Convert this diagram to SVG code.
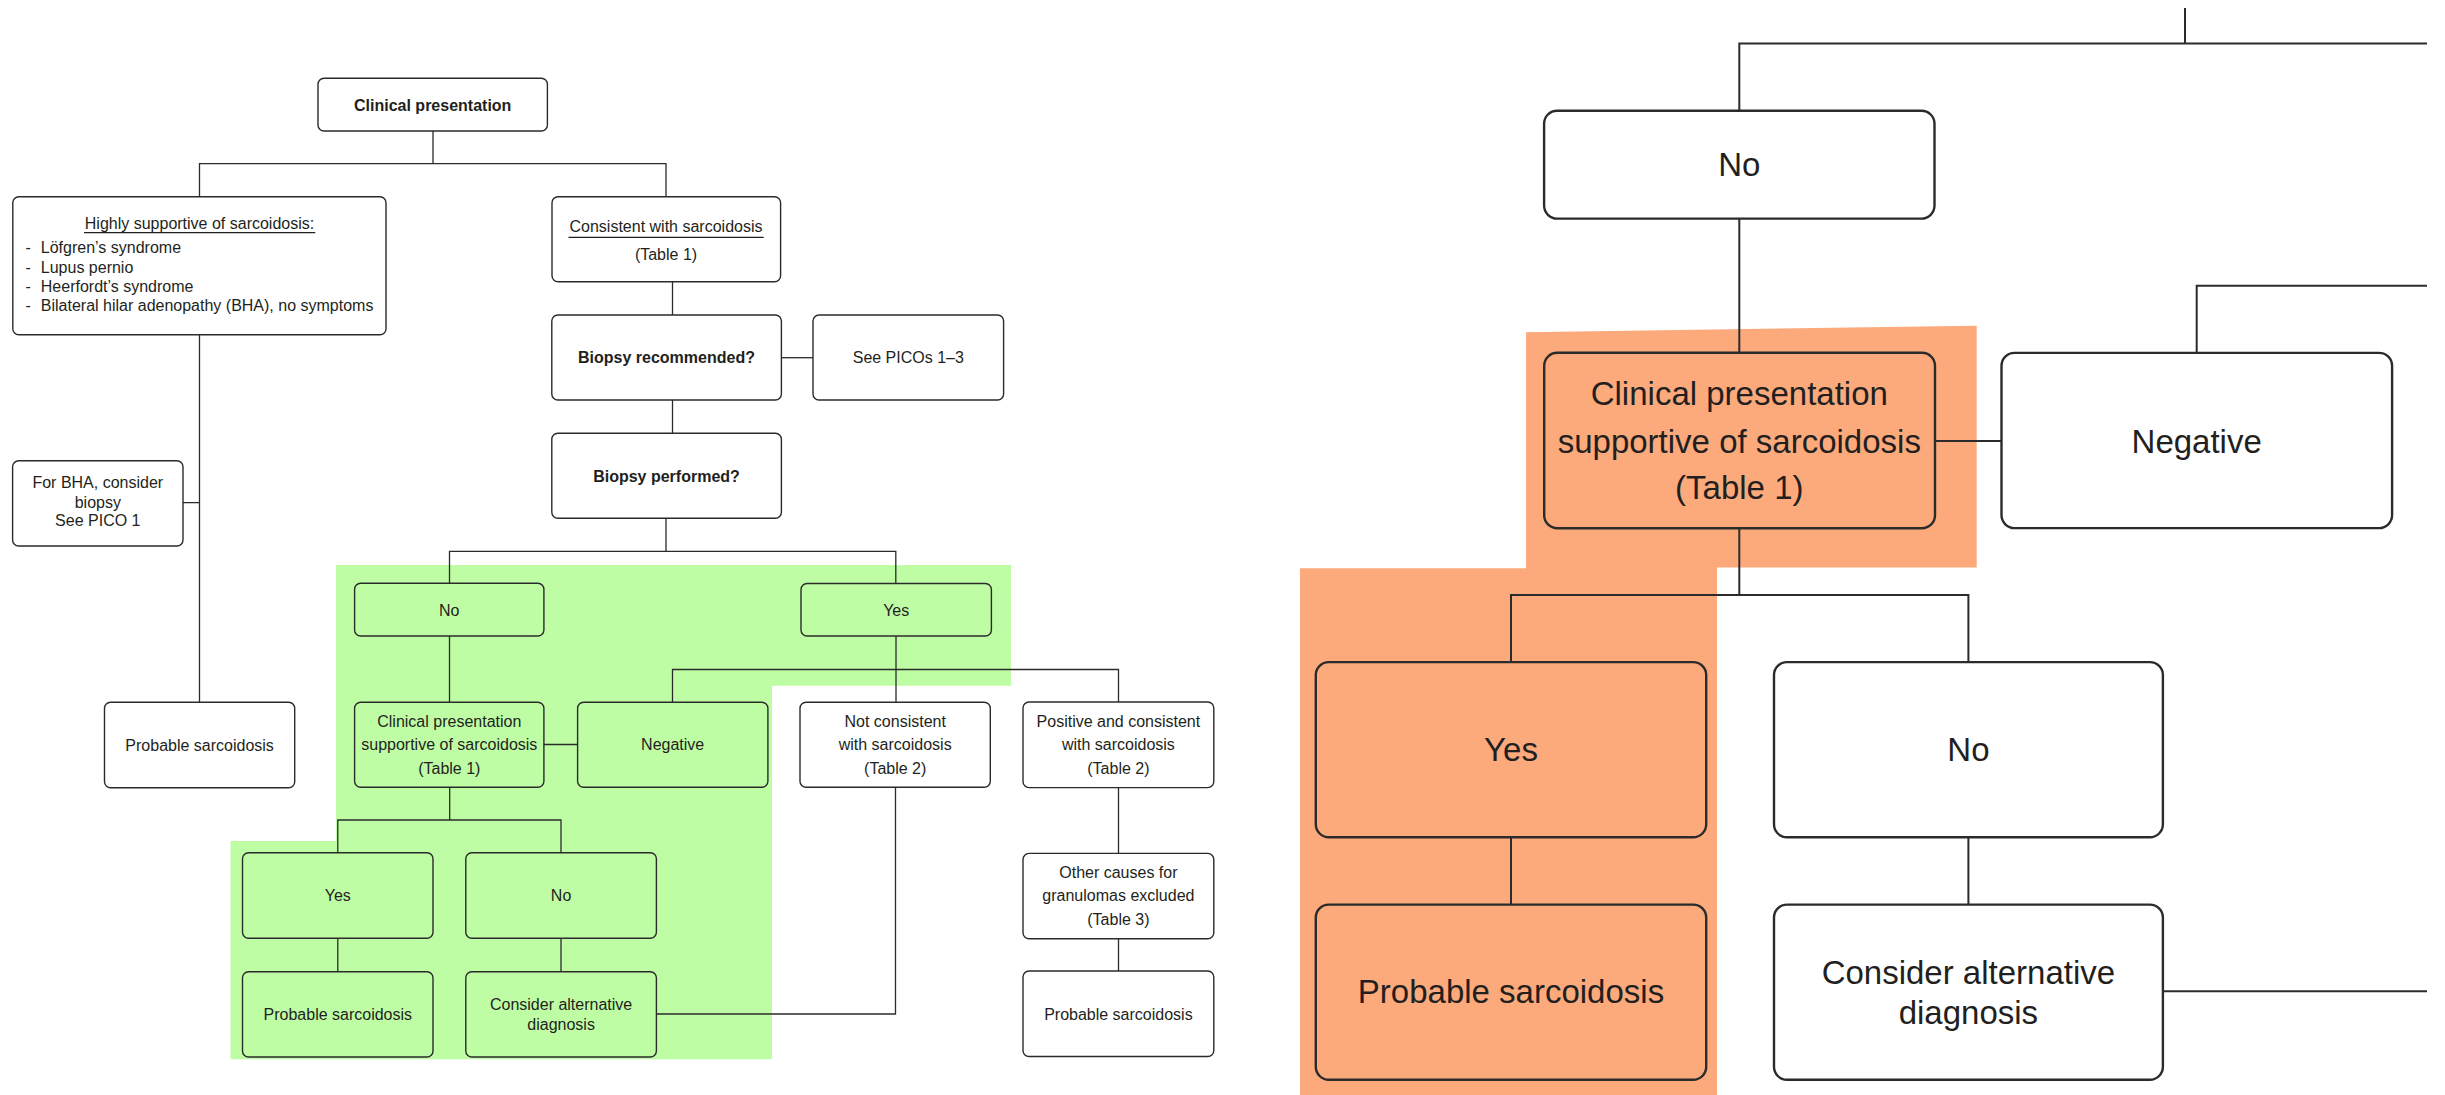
<svg xmlns="http://www.w3.org/2000/svg" width="2445" height="1095" viewBox="0 0 2445 1095">
  <style>
    .bg { fill: #ffffff; }
    .hl-green { fill: #bffda5; }
    .hl-orange { fill: #fcaa7b; }
    .box { fill: #ffffff; stroke: #2b2b2b; stroke-width: 1.4; }
    .box.g { fill: #bffda5; }
    .wire { fill: none; stroke: #2b2b2b; stroke-width: 1.3; }
    .big .box { stroke-width: 2.4; }
    .big .box.o { fill: #fcaa7b; }
    .big-wire { fill: none; stroke: #2b2b2b; stroke-width: 2; }
    text { font-family: "Liberation Sans", Arial, Helvetica, sans-serif; fill: #231f20; }
    .t { font-size: 16px; text-anchor: middle; }
    .tb { font-size: 16px; font-weight: bold; text-anchor: middle; }
    .tl { font-size: 16px; text-anchor: start; }
    .T { font-size: 33px; text-anchor: middle; }
    .ul { stroke: #231f20; stroke-width: 1.2; }
  </style>

  <rect class="bg" x="0" y="0" width="2445" height="1095"/>

  <!-- highlighted regions -->
  <g id="highlights">
    <polygon class="hl-green" points="336,565 1011,565 1011,685.7 772,685.7 772,1059.3 230.5,1059.3 230.5,841 336,841"/>
    <polygon class="hl-orange" points="1526,332.3 1976.7,325.7 1976.7,567.5 1717,567.5 1717,1095 1300,1095 1300,568.3 1526,568.3"/>
  </g>

  <!-- connectors -->
  <g id="connectors">
    <path class="wire" d="M199.5,197 V163.7 H666 V197 M433,131 V163.7"/>
    <path class="wire" d="M672.5,281.7 V315"/>
    <path class="wire" d="M781.5,357.7 H813"/>
    <path class="wire" d="M672.5,400 V433.3"/>
    <path class="wire" d="M666,518.3 V551.3 M449.5,583.3 V551.3 H895.8 V583.5"/>
    <path class="wire" d="M199.5,334.7 V702.3 M183,502.7 H199.5"/>
    <path class="wire" d="M449.5,636 V702.3"/>
    <path class="wire" d="M543.9,744.5 H577.6"/>
    <path class="wire" d="M896,636 V702.3"/>
    <path class="wire" d="M672.5,702.3 V669.5 H1118.5 V702"/>
    <path class="wire" d="M449.7,787.3 V820 M337.8,852.7 V820 H561 V852.7"/>
    <path class="wire" d="M337.8,938.3 V971.7 M561,938.3 V971.7"/>
    <path class="wire" d="M656.4,1014 H895.5 V787.3"/>
    <path class="wire" d="M1118.5,787.6 V853.4 M1118.5,938.8 V971"/>

    <path class="big-wire" d="M2185,8 V43.5 M1739.3,110.7 V43.5 H2427"/>
    <path class="big-wire" d="M1739.3,218.6 V352.9"/>
    <path class="big-wire" d="M1935,441 H2001.5"/>
    <path class="big-wire" d="M2196.7,352.9 V285.8 H2427"/>
    <path class="big-wire" d="M1739.3,528 V594.9 M1511,662.1 V594.9 H1968.4 V662.1"/>
    <path class="big-wire" d="M1511,837.3 V904.6 M1968.4,837.3 V904.6"/>
    <path class="big-wire" d="M2163,991.3 H2427"/>
  </g>

  <!-- overview flowchart -->
  <g id="clinical-presentation">
    <rect class="box" x="318" y="78.3" width="229.4" height="52.7" rx="6"/>
    <text class="tb" x="432.7" y="110.5">Clinical presentation</text>
  </g>

  <g id="highly-supportive">
    <rect class="box" x="12.8" y="196.7" width="373.2" height="138" rx="6"/>
    <text class="t" x="199.5" y="228.5">Highly supportive of sarcoidosis:</text>
    <line class="ul" x1="84" y1="232.6" x2="315.3" y2="232.6"/>
    <text class="tl" x="25.5" y="253.2">-<tspan x="40.8">Löfgren’s syndrome</tspan></text>
    <text class="tl" x="25.5" y="272.5">-<tspan x="40.8">Lupus pernio</tspan></text>
    <text class="tl" x="25.5" y="292">-<tspan x="40.8">Heerfordt’s syndrome</tspan></text>
    <text class="tl" x="25.5" y="311.3">-<tspan x="40.8">Bilateral hilar adenopathy (BHA), no symptoms</tspan></text>
  </g>

  <g id="consistent">
    <rect class="box" x="552" y="196.7" width="228.6" height="85" rx="6"/>
    <text class="t" x="666" y="232.3">Consistent with sarcoidosis</text>
    <line class="ul" x1="568.5" y1="237.3" x2="763.7" y2="237.3"/>
    <text class="t" x="666" y="259.6">(Table 1)</text>
  </g>

  <g id="biopsy-recommended">
    <rect class="box" x="551.8" y="315" width="229.6" height="85" rx="6"/>
    <text class="tb" x="666.5" y="363.4">Biopsy recommended?</text>
  </g>

  <g id="see-picos">
    <rect class="box" x="813" y="315" width="190.6" height="85" rx="6"/>
    <text class="t" x="908.3" y="363.4">See PICOs 1–3</text>
  </g>

  <g id="biopsy-performed">
    <rect class="box" x="551.8" y="433.3" width="229.6" height="85" rx="6"/>
    <text class="tb" x="666.5" y="481.7">Biopsy performed?</text>
  </g>

  <g id="for-bha">
    <rect class="box" x="12.6" y="460.7" width="170.4" height="85.3" rx="6"/>
    <text class="t" x="97.8" y="488">For BHA, consider</text>
    <text class="t" x="97.8" y="507.6">biopsy</text>
    <text class="t" x="97.8" y="526.4">See PICO 1</text>
  </g>

  <g id="probable-supportive">
    <rect class="box" x="104.5" y="702.3" width="190.2" height="85.4" rx="6"/>
    <text class="t" x="199.6" y="750.7">Probable sarcoidosis</text>
  </g>

  <g id="biopsy-no">
    <rect class="box g" x="354.6" y="583.3" width="189.3" height="52.7" rx="6"/>
    <text class="t" x="449.3" y="615.5">No</text>
  </g>

  <g id="biopsy-yes">
    <rect class="box g" x="801" y="583.5" width="190.4" height="52.5" rx="6"/>
    <text class="t" x="896.2" y="615.5">Yes</text>
  </g>

  <g id="clinical-supportive">
    <rect class="box g" x="354.6" y="702.3" width="189.3" height="85" rx="6"/>
    <text class="t" x="449.3" y="727.3">Clinical presentation</text>
    <text class="t" x="449.3" y="750.3">supportive of sarcoidosis</text>
    <text class="t" x="449.3" y="773.8">(Table 1)</text>
  </g>

  <g id="negative">
    <rect class="box g" x="577.6" y="702.3" width="190.3" height="85" rx="6"/>
    <text class="t" x="672.7" y="750.3">Negative</text>
  </g>

  <g id="not-consistent">
    <rect class="box" x="800" y="702.3" width="190.3" height="85" rx="6"/>
    <text class="t" x="895.2" y="727.3">Not consistent</text>
    <text class="t" x="895.2" y="750.3">with sarcoidosis</text>
    <text class="t" x="895.2" y="773.8">(Table 2)</text>
  </g>

  <g id="positive-consistent">
    <rect class="box" x="1023" y="702" width="190.8" height="85.6" rx="6"/>
    <text class="t" x="1118.4" y="727.3">Positive and consistent</text>
    <text class="t" x="1118.4" y="750.3">with sarcoidosis</text>
    <text class="t" x="1118.4" y="773.8">(Table 2)</text>
  </g>

  <g id="supportive-yes">
    <rect class="box g" x="242.5" y="852.7" width="190.5" height="85.6" rx="6"/>
    <text class="t" x="337.8" y="901.3">Yes</text>
  </g>

  <g id="supportive-no">
    <rect class="box g" x="465.8" y="852.7" width="190.6" height="85.6" rx="6"/>
    <text class="t" x="561.1" y="901.3">No</text>
  </g>

  <g id="probable-yes">
    <rect class="box g" x="242.5" y="971.7" width="190.5" height="85.3" rx="6"/>
    <text class="t" x="337.8" y="1019.7">Probable sarcoidosis</text>
  </g>

  <g id="consider-alternative">
    <rect class="box g" x="465.8" y="971.7" width="190.6" height="85.3" rx="6"/>
    <text class="t" x="561.1" y="1010">Consider alternative</text>
    <text class="t" x="561.1" y="1029.7">diagnosis</text>
  </g>

  <g id="other-causes">
    <rect class="box" x="1023" y="853.4" width="190.8" height="85.4" rx="6"/>
    <text class="t" x="1118.4" y="878">Other causes for</text>
    <text class="t" x="1118.4" y="901.2">granulomas excluded</text>
    <text class="t" x="1118.4" y="924.5">(Table 3)</text>
  </g>

  <g id="probable-positive">
    <rect class="box" x="1023" y="971" width="190.8" height="85.5" rx="6"/>
    <text class="t" x="1118.4" y="1019.5">Probable sarcoidosis</text>
  </g>

  <!-- enlarged detail of the "No biopsy" branch -->
  <g class="big">
    <g id="detail-no">
      <rect class="box" x="1544.1" y="110.7" width="390.4" height="107.9" rx="13"/>
      <text class="T" x="1739.3" y="176.1">No</text>
    </g>

    <g id="detail-clinical-supportive">
      <rect class="box o" x="1544.2" y="352.8" width="390.8" height="175.4" rx="13"/>
      <text class="T" x="1739.3" y="404.7">Clinical presentation</text>
      <text class="T" x="1739.3" y="452.6">supportive of sarcoidosis</text>
      <text class="T" x="1739.3" y="499.3">(Table 1)</text>
    </g>

    <g id="detail-negative">
      <rect class="box" x="2001.5" y="352.9" width="390.6" height="175.2" rx="13"/>
      <text class="T" x="2196.7" y="452.8">Negative</text>
    </g>

    <g id="detail-yes">
      <rect class="box o" x="1315.8" y="662.1" width="390.4" height="175.2" rx="13"/>
      <text class="T" x="1511" y="760.7">Yes</text>
    </g>

    <g id="detail-no-2">
      <rect class="box" x="1774" y="662.1" width="388.9" height="175.2" rx="13"/>
      <text class="T" x="1968.4" y="760.7">No</text>
    </g>

    <g id="detail-probable">
      <rect class="box o" x="1315.8" y="904.6" width="390.4" height="175.2" rx="13"/>
      <text class="T" x="1511" y="1003.1">Probable sarcoidosis</text>
    </g>

    <g id="detail-consider">
      <rect class="box" x="1774" y="904.6" width="388.9" height="175.2" rx="13"/>
      <text class="T" x="1968.4" y="983.7">Consider alternative</text>
      <text class="T" x="1968.4" y="1024.4">diagnosis</text>
    </g>
  </g>
</svg>
